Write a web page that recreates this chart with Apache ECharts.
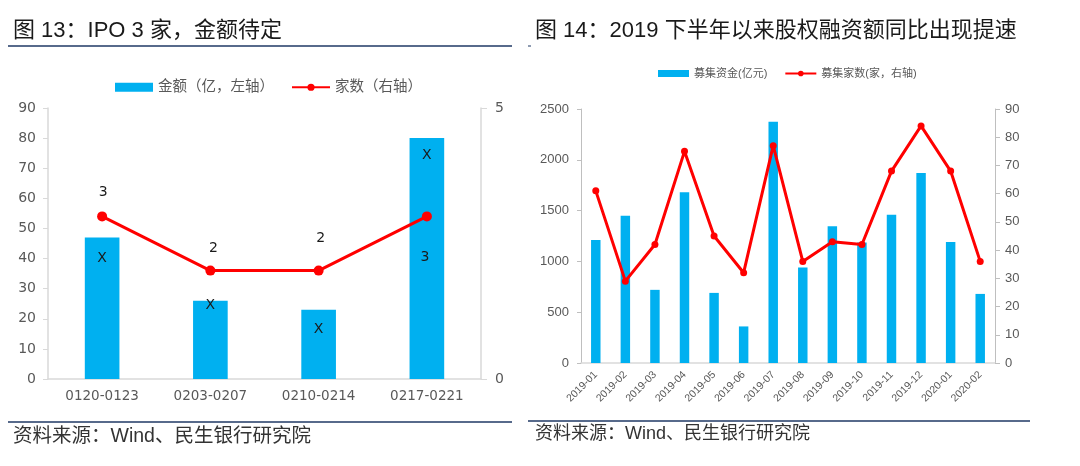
<!DOCTYPE html>
<html><head><meta charset="utf-8">
<script src="https://cdn.jsdelivr.net/npm/echarts@6/dist/echarts.min.js"></script>
<style>html,body{margin:0;padding:0;background:#fff}#c{width:1080px;height:466px}</style>
</head><body><div id="c"></div>
<script>
// Chart 13 data
const weekCats = ['0120-0123', '0203-0207', '0210-0214', '0217-0221'];
const weekAmount = [47, 26, 23, 80];       // 金额（亿，左轴）
const weekCount = [3, 2, 2, 3];            // 家数（右轴）
const weekAmountLabels = ['X', 'X', 'X', 'X'];
const leftTicksL = [0, 90, 10];
const rightTicksL = [0, 5, 5];

// Chart 14 data
const monthCats = ['2019-01','2019-02','2019-03','2019-04','2019-05','2019-06','2019-07','2019-08','2019-09','2019-10','2019-11','2019-12','2020-01','2020-02'];
const monthFunds = [1210, 1450, 720, 1680, 690, 360, 2375, 940, 1345, 1185, 1460, 1870, 1190, 680];  // 募集资金(亿元)
const monthCount = [61, 29, 42, 75, 45, 32, 77, 36, 43, 42, 68, 84, 68, 36];  // 募集家数(家，右轴)

const CJK = "'Liberation Sans','Noto Sans CJK SC',sans-serif";
const DV = "'DejaVu Sans','Noto Sans CJK SC',sans-serif";
const BLUE = '#00B0F0', RED = '#FF0000', GRAY = '#595959', AX = '#BFBFBF', NAVY = '#1F3864';

// per-point label offsets (styling only)
const barLabelPos = [21, 5, 20, 17];
const lineLabelOff = [[1,-24],[3,-22],[2,-32],[-2,41]];

const plain = v => String(v);

const chart = echarts.init(document.getElementById('c'), null, {renderer:'canvas'});
chart.setOption({
  animation: false,
  textStyle: {fontFamily: CJK},
  legend: [
    {left: 110, top: 75, itemWidth: 38, itemHeight: 9, itemGap: 17,
     textStyle: {fontSize: 14.5, color: GRAY, fontFamily: CJK},
     data: [{name: '金额（亿，左轴）', icon: 'rect'}, {name: '家数（右轴）'}]},
    {left: 653, top: 63, itemWidth: 31, itemHeight: 7, itemGap: 17,
     textStyle: {fontSize: 11, color: GRAY, fontFamily: CJK},
     data: [{name: '募集资金(亿元)', icon: 'rect'}, {name: '募集家数(家，右轴)'}]}
  ],
  grid: [
    {left: 48, right: 599, top: 108, bottom: 87, containLabel: false},
    {left: 581, right: 85, top: 109, bottom: 103, containLabel: false}
  ],
  xAxis: [
    {type: 'category', gridIndex: 0, data: weekCats,
     axisLine: {lineStyle: {color: '#D9D9D9', width: 1.5}}, axisTick: {show: false},
     axisLabel: {color: GRAY, fontSize: 13.5, fontFamily: DV, margin: 11}},
    {type: 'category', gridIndex: 1, data: monthCats,
     axisLine: {lineStyle: {color: '#D9D9D9', width: 1.5}}, axisTick: {show: false},
     axisLabel: {color: GRAY, fontSize: 10.5, rotate: 45, margin: 10, interval: 0}}
  ],
  yAxis: [
    {type: 'value', gridIndex: 0, min: leftTicksL[0], max: leftTicksL[1], interval: leftTicksL[2],
     axisLine: {show: true, lineStyle: {color: '#D9D9D9', width: 1.5}},
     axisTick: {show: true, length: 5, lineStyle: {color: '#D9D9D9'}},
     splitLine: {show: false}, axisLabel: {color: GRAY, fontSize: 14, fontFamily: DV, margin: 12, formatter: plain}},
    {type: 'value', gridIndex: 0, position: 'right', min: rightTicksL[0], max: rightTicksL[1], interval: rightTicksL[2],
     axisLine: {show: true, lineStyle: {color: '#D9D9D9', width: 1.5}},
     axisTick: {show: true, length: 6, lineStyle: {color: '#D9D9D9'}},
     splitLine: {show: false}, axisLabel: {color: GRAY, fontSize: 14, fontFamily: DV, margin: 14, formatter: plain}},
    {type: 'value', gridIndex: 1, min: 0, max: 2500, interval: 500,
     axisLine: {show: true, lineStyle: {color: AX, width: 1}},
     axisTick: {show: true, length: 4, lineStyle: {color: AX}},
     splitLine: {show: false}, axisLabel: {color: GRAY, fontSize: 13, margin: 12, formatter: plain}},
    {type: 'value', gridIndex: 1, position: 'right', min: 0, max: 90, interval: 10,
     axisLine: {show: true, lineStyle: {color: AX, width: 1}},
     axisTick: {show: true, length: 5, lineStyle: {color: AX}},
     splitLine: {show: false}, axisLabel: {color: GRAY, fontSize: 13, margin: 10, formatter: plain}}
  ],
  series: [
    {name: '金额（亿，左轴）', type: 'bar', xAxisIndex: 0, yAxisIndex: 0, barWidth: '32%',
     itemStyle: {color: BLUE},
     data: weekAmount.map((v, i) => ({value: v, label: {show: true, position: ['50%', barLabelPos[i]], align: 'center', verticalAlign: 'middle',
       formatter: weekAmountLabels[i], color: '#1a1a1a', fontSize: 14, fontFamily: DV}}))},
    {name: '家数（右轴）', type: 'line', xAxisIndex: 0, yAxisIndex: 1,
     symbol: 'circle', symbolSize: 10, lineStyle: {color: RED, width: 3}, itemStyle: {color: RED},
     data: weekCount.map((v, i) => ({value: v, label: {show: true, position: 'inside', offset: lineLabelOff[i],
       color: '#1a1a1a', fontSize: 14, fontFamily: DV}}))},
    {name: '募集资金(亿元)', type: 'bar', xAxisIndex: 1, yAxisIndex: 2, barWidth: '32%',
     itemStyle: {color: BLUE}, data: monthFunds},
    {name: '募集家数(家，右轴)', type: 'line', xAxisIndex: 1, yAxisIndex: 3,
     symbol: 'circle', symbolSize: 7, lineStyle: {color: RED, width: 3}, itemStyle: {color: RED},
     data: monthCount}
  ],
  graphic: [
    {type: 'text', x: 13, y: 31, style: {text: '图 13：IPO 3 家，金额待定', fontSize: 22, fontFamily: CJK, fill: '#1a1a1a', verticalAlign: 'middle'}},
    {type: 'line', shape: {x1: 8, y1: 46, x2: 512, y2: 46}, style: {stroke: NAVY, lineWidth: 1.5}},
    {type: 'text', x: 535, y: 31, style: {text: '图 14：2019 下半年以来股权融资额同比出现提速', fontSize: 22, fontFamily: CJK, fill: '#1a1a1a', verticalAlign: 'middle'}},
    {type: 'line', shape: {x1: 528, y1: 46, x2: 531, y2: 46}, style: {stroke: NAVY, lineWidth: 1}},
    {type: 'line', shape: {x1: 8, y1: 422, x2: 512, y2: 422}, style: {stroke: NAVY, lineWidth: 1.5}},
    {type: 'text', x: 13, y: 437, style: {text: '资料来源：Wind、民生银行研究院', fontSize: 19.5, fontFamily: CJK, fill: '#333', verticalAlign: 'middle'}},
    {type: 'line', shape: {x1: 528, y1: 421, x2: 1030, y2: 421}, style: {stroke: NAVY, lineWidth: 1.5}},
    {type: 'text', x: 535, y: 434, style: {text: '资料来源：Wind、民生银行研究院', fontSize: 18, fontFamily: CJK, fill: '#333', verticalAlign: 'middle'}}
  ]
});
</script></body></html>
